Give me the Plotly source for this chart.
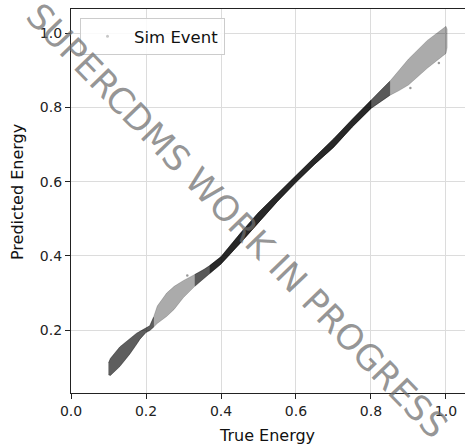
import plotly.graph_objects as go

# Band of the simulated-event cloud: true energy vs predicted (lower / upper edge)
band_x = [0.100, 0.105, 0.13, 0.157, 0.175, 0.184, 0.20, 0.21, 0.22, 0.23, 0.255, 0.275, 0.30, 0.33,
          0.355, 0.37, 0.40, 0.45, 0.50, 0.55, 0.60, 0.65, 0.70, 0.75, 0.80, 0.825, 0.85, 0.875,
          0.90, 0.95, 0.975, 1.00, 1.003]
band_lo = [0.080, 0.078, 0.102, 0.136, 0.162, 0.176, 0.194, 0.199, 0.208, 0.218, 0.237, 0.256, 0.288, 0.318,
           0.340, 0.353, 0.378, 0.433, 0.491, 0.546, 0.598, 0.647, 0.692, 0.747, 0.797, 0.815, 0.832, 0.845,
           0.860, 0.905, 0.925, 0.945, 0.960]
band_hi = [0.112, 0.124, 0.155, 0.178, 0.192, 0.197, 0.207, 0.212, 0.235, 0.265, 0.300, 0.318, 0.334, 0.350,
           0.364, 0.374, 0.398, 0.459, 0.517, 0.568, 0.617, 0.666, 0.715, 0.768, 0.819, 0.845, 0.870, 0.900,
           0.930, 0.980, 1.000, 1.018, 1.010]
# isolated stray events
stray_x = [0.981, 0.905, 0.31]
stray_y = [0.919, 0.852, 0.347]

x_ticks = [0.0, 0.2, 0.4, 0.6, 0.8, 1.0]
y_ticks = [0.2, 0.4, 0.6, 0.8, 1.0]

FONT = "DejaVu Sans"

fig = go.Figure()


def add_band(xmin, xmax, alpha):
    idx = [i for i, v in enumerate(band_x) if xmin <= v <= xmax]
    xs = [band_x[i] for i in idx]
    lo = [band_lo[i] for i in idx]
    hi = [band_hi[i] for i in idx]
    fig.add_trace(go.Scatter(
        x=xs + xs[::-1], y=lo + hi[::-1], mode="lines", fill="toself",
        fillcolor=f"rgba(0,0,0,{alpha})", line=dict(width=1.0, color=f"rgba(0,0,0,{alpha*0.5})"),
        showlegend=False, hoverinfo="skip"))


add_band(0.0, 1.1, 0.33)
add_band(0.10, 0.22, 0.45)
add_band(0.33, 0.85, 0.48)
add_band(0.37, 0.80, 0.55)

fig.add_trace(go.Scatter(x=stray_x, y=stray_y, mode="markers",
                         marker=dict(size=2.5, color="rgba(0,0,0,0.4)"),
                         showlegend=False, hoverinfo="skip"))

# legend entry
fig.add_trace(go.Scatter(x=[None], y=[None], mode="markers", name="Sim Event",
                         marker=dict(size=3, color="rgba(0,0,0,0.22)")))

fig.add_annotation(text="SUPERCDMS WORK IN PROGRESS", x=0.443, y=0.494, xref="x", yref="y",
                   showarrow=False, textangle=46, xanchor="center", yanchor="middle",
                   font=dict(family=FONT, size=35, color="rgba(110,110,110,0.72)"))

fig.add_annotation(text="True Energy", x=(267 - 71) / 394, y=-(435 - 393) / 384, xref="paper", yref="paper",
                   showarrow=False, xanchor="center", yanchor="middle",
                   font=dict(family=FONT, size=16, color="#111"))
fig.add_annotation(text="Predicted Energy", x=-(71 - 17) / 394, y=1 - (192 - 9) / 384, xref="paper", yref="paper",
                   showarrow=False, textangle=-90, xanchor="center", yanchor="middle",
                   font=dict(family=FONT, size=16, color="#111"))

axis_common = dict(showgrid=True, gridcolor="#dcdcdc", gridwidth=1, zeroline=False,
                   showline=True, linecolor="#222", linewidth=1.2, automargin=False,
                   ticks="outside", ticklen=5, tickwidth=1, tickcolor="#222",
                   tickfont=dict(family=FONT, size=14, color="#222"))

fig.update_xaxes(range=[0, 1.0507], tickvals=x_ticks, ticktext=[f"{v:.1f}" for v in x_ticks],
                 mirror=True, **axis_common)
fig.update_yaxes(range=[0.031, 1.0646], tickvals=y_ticks, ticktext=[f"{v:.1f}" for v in y_ticks],
                 **axis_common)

fig.update_layout(
    width=465, height=444,
    margin=dict(l=71, r=0, t=9, b=51, autoexpand=False),
    plot_bgcolor="white", paper_bgcolor="white",
    font=dict(family=FONT, color="#111"),
    showlegend=True,
    legend=dict(x=9 / 394, y=1 - 9 / 384, xanchor="left", yanchor="top", itemwidth=43,
                bgcolor="rgba(255,255,255,0.85)", bordercolor="#cccccc", borderwidth=1,
                font=dict(family=FONT, size=16.5, color="#111")),
)

fig.write_html("out.html", config={"displayModeBar": False},
               post_script="document.body.style.margin='0';document.body.style.overflow='hidden';")
